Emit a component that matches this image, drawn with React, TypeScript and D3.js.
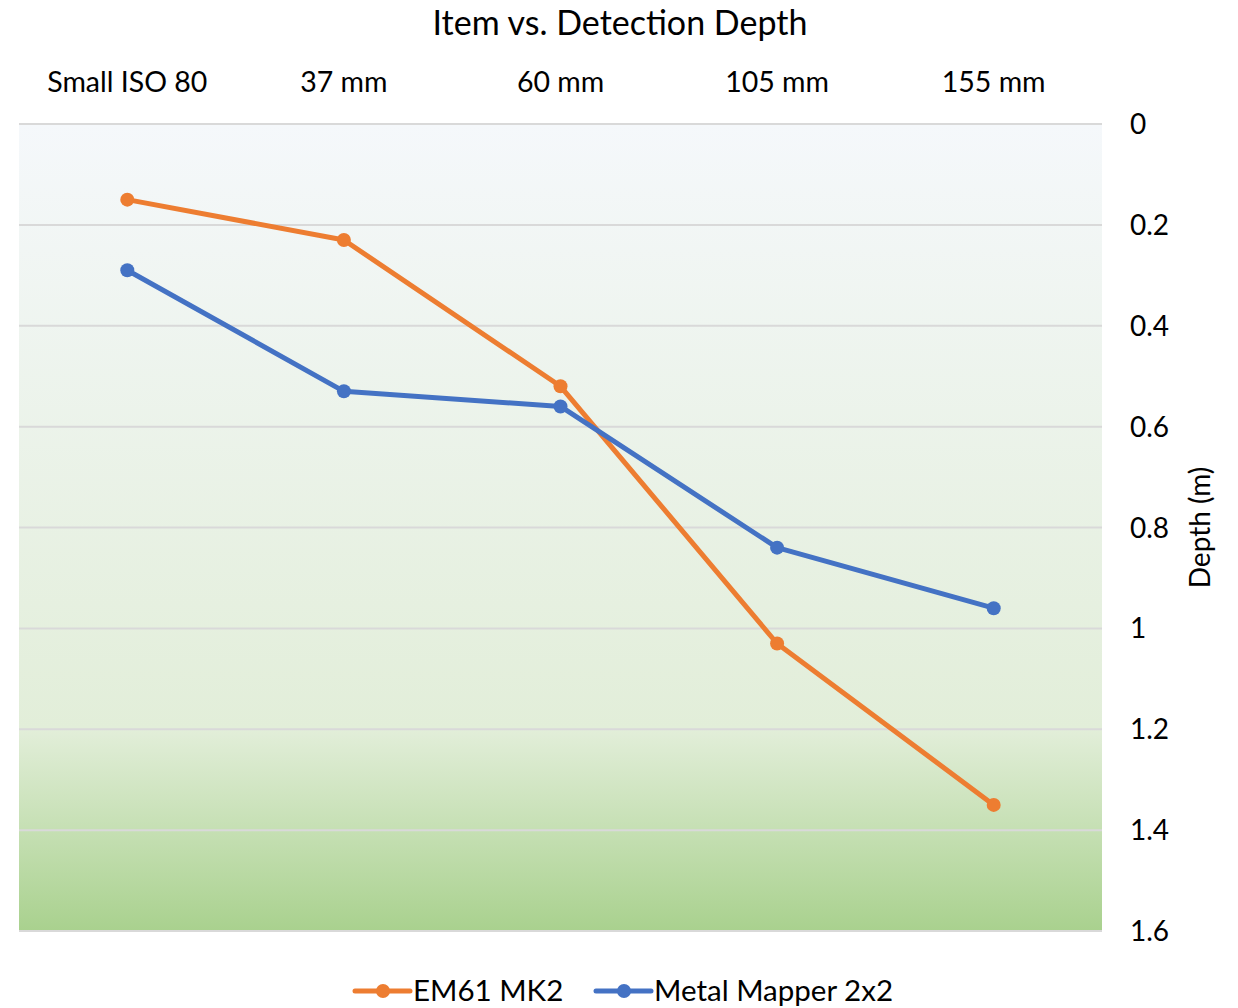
import React from "react";
import * as d3 from "d3";

const categories = ["Small ISO 80", "37 mm", "60 mm", "105 mm", "155 mm"];
const em61 = [0.15, 0.23, 0.52, 1.03, 1.35];
const metalMapper = [0.29, 0.53, 0.56, 0.84, 0.96];
const yTicks = [0, 0.2, 0.4, 0.6, 0.8, 1, 1.2, 1.4, 1.6];
const seriesNames = ["EM61 MK2", "Metal Mapper 2x2"];
const seriesColors = ["#ED7D31", "#4472C4"];

const W = 1238, H = 1008;
const L = 19, R = 1102, T = 124, B = 931;
const FONT = "Lato, 'Open Sans', sans-serif";

export default function App() {
  const x = d3.scaleBand().domain(categories).range([L, R]);
  const y = d3.scaleLinear().domain([0, 1.6]).range([T, B]);
  const cx = (c: string) => (x(c) as number) + x.bandwidth() / 2;
  const line = d3.line<[number, number]>().x(d => d[0]).y(d => d[1]);
  const series = [em61, metalMapper];
  return (
    <svg width={W} height={H} style={{ position: "absolute", left: 0, top: 0 }}>
      <defs>
        <linearGradient id="bg" x1="0" y1="0" x2="0" y2="1">
          <stop offset="0" stopColor="#f5f8fb" />
          <stop offset="0.75" stopColor="#e2eed9" />
          <stop offset="1" stopColor="#a9d18e" />
        </linearGradient>
      </defs>
      <rect x={0} y={0} width={W} height={H} fill="#fff" />
      <text x={620} y={35} textAnchor="middle" fontFamily={FONT} fontSize={34} fill="#000">Item vs. Detection Depth</text>
      <rect x={L} y={T} width={R - L} height={B - T} fill="url(#bg)" />
      {yTicks.map(t => (
        <line key={t} x1={L} x2={R} y1={y(t)} y2={y(t)} stroke="#d9d9d9" strokeWidth={2} />
      ))}
      {yTicks.map(t => (
        <text key={"l" + t} x={1130} y={y(t) + 10} fontFamily={FONT} fontSize={28} fill="#000">{String(t)}</text>
      ))}
      {categories.map(c => (
        <text key={c} x={cx(c)} y={92} textAnchor="middle" fontFamily={FONT} fontSize={28.5} fill="#000">{c}</text>
      ))}
      <text transform={`translate(1210,${(T + B) / 2}) rotate(-90)`} textAnchor="middle" fontFamily={FONT} fontSize={28} fill="#000">Depth (m)</text>
      {series.map((s, i) => {
        const pts = s.map((v, j) => [cx(categories[j]), y(v)] as [number, number]);
        return (
          <g key={i}>
            <path d={line(pts) || ""} fill="none" stroke={seriesColors[i]} strokeWidth={5} strokeLinejoin="round" />
            {pts.map((p, j) => <circle key={j} cx={p[0]} cy={p[1]} r={7} fill={seriesColors[i]} />)}
          </g>
        );
      })}
      {seriesNames.map((n, i) => {
        const lx = i === 0 ? 355 : 596;
        return (
          <g key={n}>
            <line x1={lx} x2={lx + 55} y1={991} y2={991} stroke={seriesColors[i]} strokeWidth={5} strokeLinecap="round" />
            <circle cx={lx + 28} cy={991} r={7} fill={seriesColors[i]} />
            <text x={lx + 58} y={1001} fontFamily={FONT} fontSize={29.5} fill="#000">{n}</text>
          </g>
        );
      })}
    </svg>
  );
}
